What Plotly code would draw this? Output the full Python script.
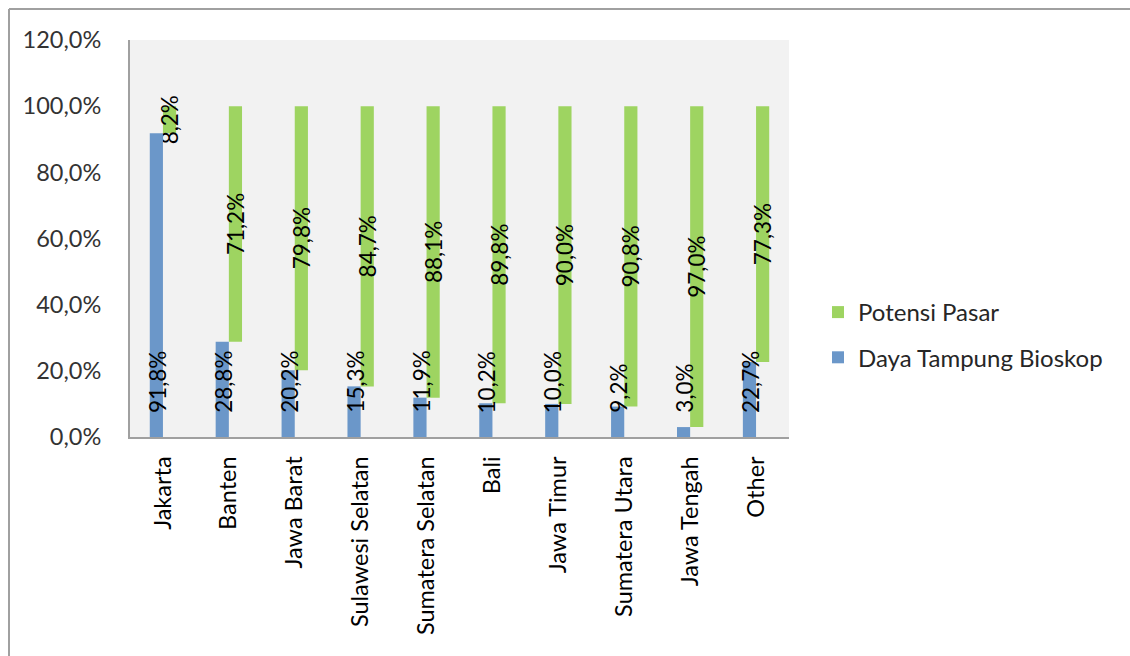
import plotly.graph_objects as go

# Regional cinema capacity vs. remaining market potential (share of 100%)
regions = ["Jakarta", "Banten", "Jawa Barat", "Sulawesi Selatan", "Sumatera Selatan",
           "Bali", "Jawa Timur", "Sumatera Utara", "Jawa Tengah", "Other"]
daya_tampung = [91.8, 28.8, 20.2, 15.3, 11.9, 10.2, 10.0, 9.2, 3.0, 22.7]
potensi_pasar = [8.2, 71.2, 79.8, 84.7, 88.1, 89.8, 90.0, 90.8, 97.0, 77.3]
y_ticks = [0, 20, 40, 60, 80, 100, 120]
y_tick_labels = ["0,0%", "20,0%", "40,0%", "60,0%", "80,0%", "100,0%", "120,0%"]

W, H = 1130, 656
M_L, M_R, M_T, M_B = 130, 341, 40, 219
BLUE = "#6b97c9"
GREEN = "#9ed461"
FONT = "Lato"


def pct(v):
    return f"{v:.1f}".replace(".", ",") + "%"


fig = go.Figure()

fig.add_trace(go.Bar(
    name="Potensi Pasar",
    x=regions, y=potensi_pasar, base=daya_tampung,
    width=0.2, offset=0.0,
    marker=dict(color=GREEN, line=dict(width=0)),
    text=[pct(v) for v in potensi_pasar],
    textposition="inside", insidetextanchor="middle",
    textangle=-90, constraintext="none",
    insidetextfont=dict(family=FONT, size=22.5, color="#000000"),
    legendgroup="g1",
))

fig.add_trace(go.Bar(
    name="Daya Tampung Bioskop",
    x=regions, y=daya_tampung,
    width=0.2, offset=-0.2,
    marker=dict(color=BLUE, line=dict(width=0)),
    legendgroup="g2",
))

# Capacity labels sit at the base of each blue column
for r, v in zip(regions, daya_tampung):
    fig.add_annotation(
        x=r, y=0, xref="x", yref="y",
        text=pct(v), textangle=-90, showarrow=False,
        xanchor="center", yanchor="bottom",
        xshift=-6, yshift=22,
        font=dict(family=FONT, size=22.5, color="#000000"),
    )

# Outer chart frame (top and left edges)
pw, ph = W - M_L - M_R, H - M_T - M_B
px = lambda p: (p - M_L) / pw
py = lambda p: (H - M_B - p) / ph
frame = dict(color="#a0a0a0", width=2)
fig.add_shape(type="line", xref="paper", yref="paper",
              x0=px(9), x1=px(W), y0=py(9), y1=py(9), line=frame)
fig.add_shape(type="line", xref="paper", yref="paper",
              x0=px(9), x1=px(9), y0=py(9), y1=py(H), line=frame)

fig.update_layout(
    width=W, height=H,
    margin=dict(l=M_L, r=M_R, t=M_T, b=M_B, pad=0),
    paper_bgcolor="#ffffff",
    plot_bgcolor="#f2f2f2",
    barmode="overlay",
    font=dict(family=FONT, size=23, color="#262626"),
    legend=dict(
        x=px(818), y=py(290), xanchor="left", yanchor="top",
        bgcolor="rgba(0,0,0,0)", traceorder="grouped",
        tracegroupgap=11, font=dict(family=FONT, size=24, color="#262626"),
        itemwidth=30,
    ),
    showlegend=True,
)

fig.update_xaxes(
    type="category", tickangle=-90, showline=True, linecolor="#a0a0a0", linewidth=2,
    ticks="", showgrid=False, ticklabelstandoff=8,
    tickfont=dict(family=FONT, size=23.5, color="#000000"),
)
fig.update_yaxes(
    range=[0, 120], tickvals=y_ticks, ticktext=y_tick_labels,
    showline=True, linecolor="#a0a0a0", linewidth=2, showgrid=False, zeroline=False,
    ticks="", ticklabelstandoff=22,
    tickfont=dict(family=FONT, size=23.5, color="#333333"),
)

fig.write_html("out.html")
